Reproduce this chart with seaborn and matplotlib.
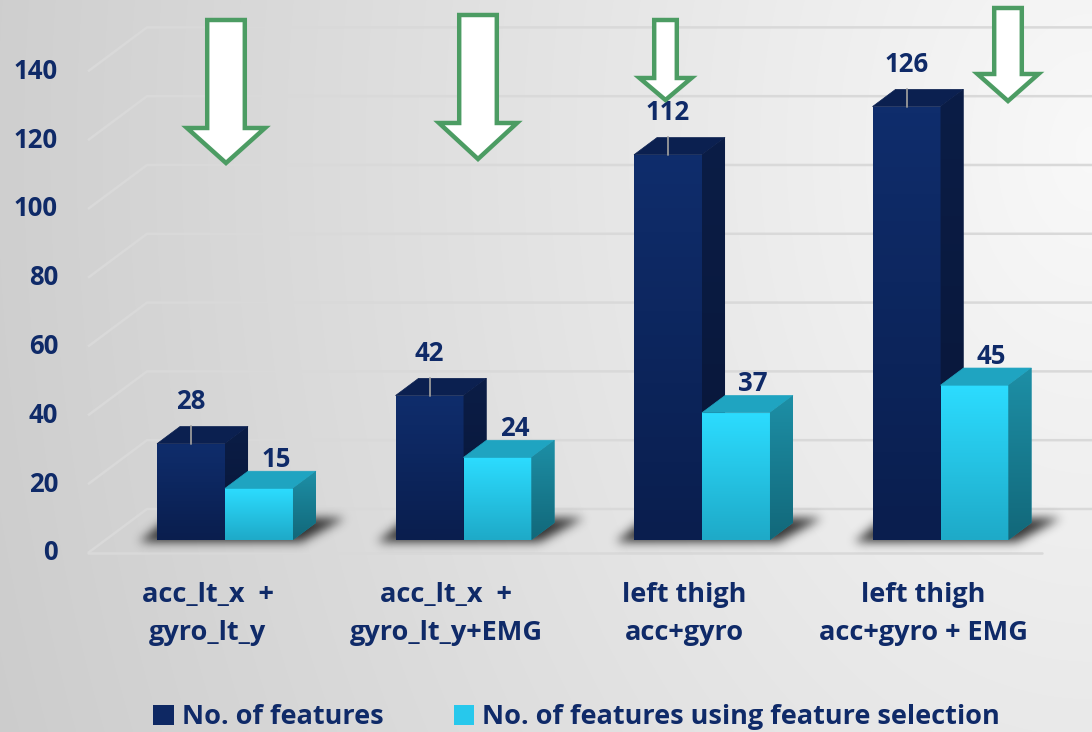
import numpy as np
import pandas as pd
import matplotlib
matplotlib.use("Agg")
import matplotlib.pyplot as plt
import seaborn as sns
from matplotlib.patches import Polygon, Patch
from matplotlib.path import Path
from matplotlib.colors import LinearSegmentedColormap

# ---- data -------------------------------------------------------------
categories = ["acc_lt_x  +\ngyro_lt_y", "acc_lt_x  +\ngyro_lt_y+EMG",
              "left thigh\nacc+gyro", "left thigh\nacc+gyro + EMG"]
series_names = ["No. of features", "No. of features using feature selection"]
n_features = [28, 42, 112, 126]
n_selected = [15, 24, 37, 45]
y_ticks = [0, 20, 40, 60, 80, 100, 120, 140]

# ---- style ------------------------------------------------------------
NAVY = "#0f2a68"
GREEN = "#4c9c63"
GRID = "#d9d9d9"
DARK = "#0d2761"
LIGHT = "#27c8ec"

sns.set_theme(style="white")
plt.rcParams["font.family"] = ["Open Sans", "DejaVu Sans"]

W, H, DPI = 1092, 732, 100
fig = plt.figure(figsize=(W / DPI, H / DPI), dpi=DPI)
ax = fig.add_axes([0, 0, 1, 1])

# pixel scale of the chart plane
PX_PER_CAT = 238.5
PX_PER_UNIT = 3.44
X0_PX, Y0_PX = 225, 540
XLIM = (-X0_PX / PX_PER_CAT, (W - X0_PX) / PX_PER_CAT)
YLIM = (-(H - Y0_PX) / PX_PER_UNIT, Y0_PX / PX_PER_UNIT)

# oblique depth vector (data units) and depth positions
DX, DY = 59 / PX_PER_CAT, 44 / PX_PER_UNIT
FLOOR_FRONT, BACK_WALL, BAR_DEPTH = -0.295, 0.705, 0.39
FLOOR_LEFT = (88 - X0_PX) / PX_PER_CAT - FLOOR_FRONT * DX
FLOOR_RIGHT = (1042 - X0_PX) / PX_PER_CAT - FLOOR_FRONT * DX
TICK_LABEL_X = (58 - X0_PX) / PX_PER_CAT


def proj(x, v, d):
    return (x + d * DX, v + d * DY)


def px_x(dpx):
    return dpx / PX_PER_CAT


def px_y(dpx):
    return dpx / PX_PER_UNIT


# ---- bars -------------------------------------------------------------
df = pd.DataFrame({
    "group": categories * 2,
    "series": [series_names[0]] * len(categories) + [series_names[1]] * len(categories),
    "value": n_features + n_selected,
})
sns.barplot(data=df, x="group", y="value", hue="series", order=categories,
            hue_order=series_names, palette=[DARK, LIGHT], width=0.57,
            saturation=1, linewidth=0, errorbar=None, legend=False, ax=ax)
ax.set_xlim(*XLIM)
ax.set_ylim(*YLIM)
ax.set_axis_off()

# ---- background -------------------------------------------------------
gx, gy = np.meshgrid(np.arange(W) + 0.5, np.arange(H) + 0.5)
dist = np.sqrt((gx - W) ** 2 + (0.7 * (gy - 150)) ** 2)
lum = np.clip(0.975 - 0.165 * dist / 1106, 0.78, 0.98)
bg = np.dstack([lum, lum, lum])
ax.imshow(bg, extent=(*XLIM, *YLIM), origin="upper", aspect="auto", zorder=0)

# ---- side wall / back wall grid --------------------------------------
for v in y_ticks:
    p1 = proj(FLOOR_LEFT, v, FLOOR_FRONT)
    p2 = proj(FLOOR_LEFT, v, BACK_WALL)
    ax.plot([p1[0], p2[0], XLIM[1]], [p1[1], p2[1], p2[1]],
            color=GRID, lw=1.8, zorder=1, solid_capstyle="butt")
    ax.text(TICK_LABEL_X, p1[1], str(v), ha="right", va="center",
            fontsize=18.5, fontweight="bold", color=NAVY, zorder=6)
f1 = proj(FLOOR_LEFT, 0, FLOOR_FRONT)
f2 = proj(FLOOR_RIGHT, 0, FLOOR_FRONT)
ax.plot([f1[0], f2[0]], [f1[1], f2[1]], color=GRID, lw=1.8, zorder=1)

bars = list(ax.patches)
n = len(categories)
dark_bars, light_bars = bars[:n], bars[n:]

# ---- floor shadows ----------------------------------------------------
fig.canvas.draw()
pts = np.column_stack([gx.ravel(), (H - gy).ravel()])
mask = np.zeros(gx.size)
for db, lb in zip(dark_bars, light_bars):
    xl, xr = db.get_x(), lb.get_x() + lb.get_width()
    poly = [
        (xl - px_x(18), -px_y(2)),
        (xr + px_x(8), -px_y(2)),
        (xr + px_x(52), px_y(22)),
        (xl + px_x(12), px_y(22)),
    ]
    path = Path(ax.transData.transform(poly))
    mask = np.maximum(mask, path.contains_points(pts).astype(float))
mask = mask.reshape(H, W)
k = np.arange(-15, 16)
kern = np.exp(-k ** 2 / (2 * 5.0 ** 2))
kern /= kern.sum()
mask = np.apply_along_axis(lambda r: np.convolve(r, kern, mode="same"), 1, mask)
mask = np.apply_along_axis(lambda c: np.convolve(c, kern, mode="same"), 0, mask)
shadow = np.zeros((H, W, 4))
shadow[..., 3] = 0.78 * mask
ax.imshow(shadow, extent=(*XLIM, *YLIM), origin="upper", aspect="auto", zorder=2)


# ---- 3D faces ---------------------------------------------------------
def grad_fill(artist, top, bottom, extent, z):
    cmap = LinearSegmentedColormap.from_list("g", [bottom, top])
    img = ax.imshow(np.linspace(0, 1, 64).reshape(-1, 1)[::-1], cmap=cmap,
                    extent=extent, origin="upper", aspect="auto", zorder=z)
    img.set_clip_path(artist)


def draw_box(bar, front, side, top_col, z):
    x0, w, h = bar.get_x(), bar.get_width(), bar.get_height()
    bar.set_zorder(z)
    grad_fill(bar, front[0], front[1], (x0, x0 + w, 0, h), z + 0.01)
    top = Polygon([(x0, h), (x0 + w, h), proj(x0 + w, h, BAR_DEPTH),
                   proj(x0, h, BAR_DEPTH)], closed=True, facecolor=top_col,
                  edgecolor=top_col, lw=0.5, zorder=z + 0.02)
    sd = Polygon([(x0 + w, 0), (x0 + w, h), proj(x0 + w, h, BAR_DEPTH),
                  proj(x0 + w, 0, BAR_DEPTH)], closed=True, facecolor=side[0],
                 edgecolor="none", zorder=z + 0.02)
    ax.add_patch(top)
    ax.add_patch(sd)
    ex = proj(x0 + w + DX * BAR_DEPTH, h, BAR_DEPTH)
    grad_fill(sd, side[0], side[1], (x0 + w, x0 + w + DX * BAR_DEPTH, 0, ex[1]), z + 0.03)


for db, lb in zip(dark_bars, light_bars):
    draw_box(db, ("#0f2d6c", "#0a1e4e"), ("#0b1d46", "#081638"), "#0b2050", 3)
    draw_box(lb, ("#2cdcff", "#1eaac8"), ("#1d8fa6", "#12687a"), "#1fa4c1", 4)

# ---- value labels -----------------------------------------------------
for db, lb in zip(dark_bars, light_bars):
    cx, h = db.get_x() + db.get_width() / 2, db.get_height()
    ax.plot([cx, cx], [h, h + px_y(18)], color="#9a9a9a", lw=1.3, zorder=3.1)
    ax.text(cx, h + px_y(42), f"{h:.0f}", ha="center", va="center",
            fontsize=18.5, fontweight="bold", color=NAVY, zorder=6)
    cx, h = lb.get_x() + lb.get_width() / 2, lb.get_height()
    ax.text(cx + px_x(17), h + px_y(29), f"{h:.0f}", ha="center", va="center",
            fontsize=18.5, fontweight="bold", color=NAVY, zorder=3.5)

# ---- category labels --------------------------------------------------
for i, cat in enumerate(categories):
    lx, _ = proj(i, 0, FLOOR_FRONT)
    ax.text(lx, -px_y(74), cat, ha="center", va="center", fontsize=19.5,
            fontweight="bold", color=NAVY, linespacing=1.6, zorder=6)


# ---- down arrows ------------------------------------------------------
def down_arrow(cx, top, hw, head_y, HW, tip):
    pts_px = [(cx - hw, top), (cx + hw, top), (cx + hw, head_y), (cx + HW, head_y),
              (cx, tip), (cx - HW, head_y), (cx - hw, head_y)]
    pts_fig = [(x / W, 1 - y / H) for x, y in pts_px]
    fig.add_artist(Polygon(pts_fig, closed=True, transform=fig.transFigure,
                           facecolor="white", edgecolor=GREEN, lw=3.2,
                           joinstyle="miter", zorder=7))


down_arrow(226, 20, 18.8, 128, 39, 163)
down_arrow(478, 15, 18.8, 123, 39, 159)
down_arrow(665.5, 20, 11.3, 78, 26, 100)
down_arrow(1008, 8, 13.8, 74, 30.5, 101)

# ---- legend -----------------------------------------------------------
handles = [Patch(facecolor="#0e2863", edgecolor="none"),
           Patch(facecolor="#27c8ec", edgecolor="none")]
fig.legend(handles, series_names, loc="center", bbox_to_anchor=(0.528, 0.02),
           ncol=2, frameon=False, handlelength=0.75, handleheight=0.75,
           handletextpad=0.3, columnspacing=2.6,
           prop={"size": 19.5, "weight": "bold"}, labelcolor=NAVY)

fig.savefig("out.png", dpi=DPI)
